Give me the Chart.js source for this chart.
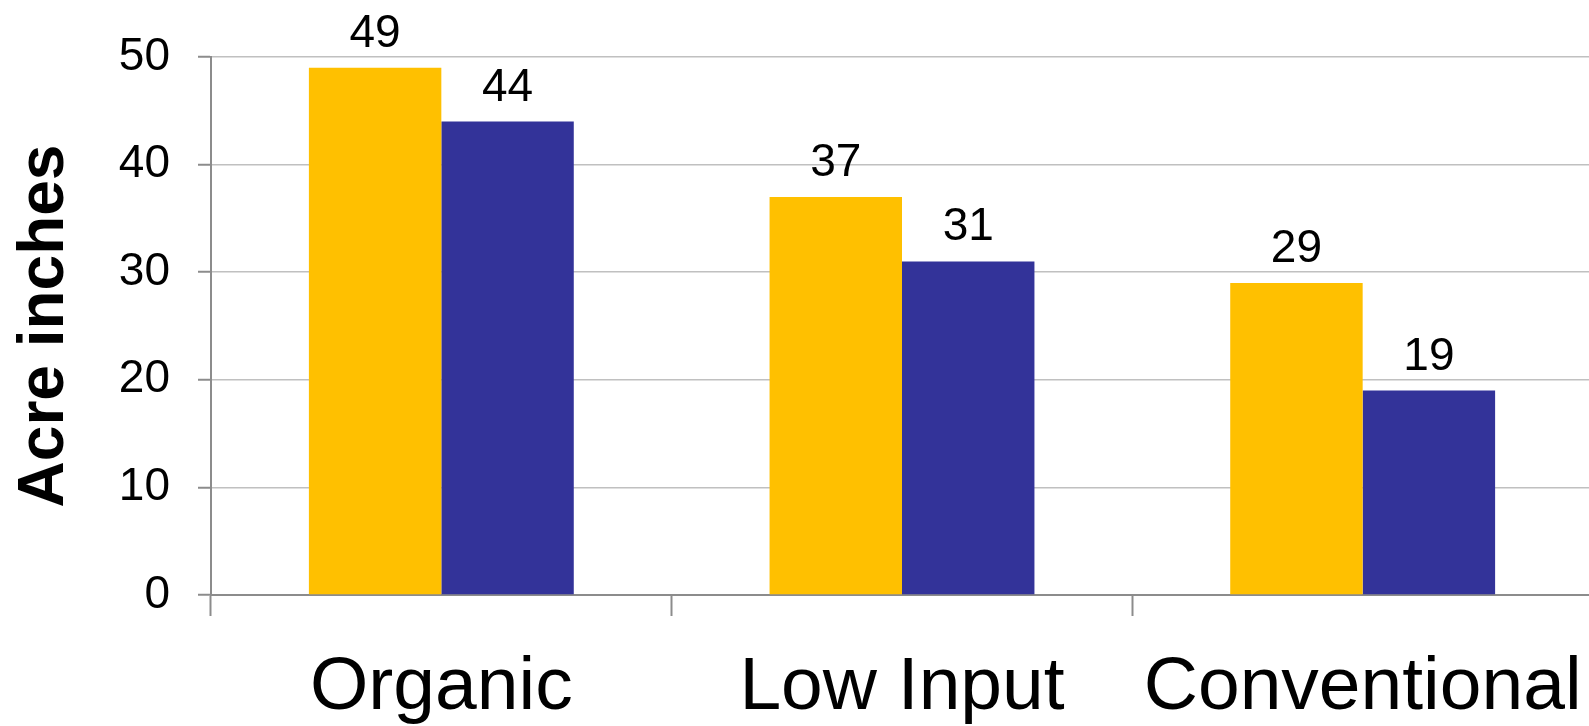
<!DOCTYPE html>
<html>
<head>
<meta charset="utf-8">
<script src="https://cdn.jsdelivr.net/npm/chart.js@4"></script>
<style>
  html, body { margin: 0; padding: 0; background: #fff; overflow: hidden; }
  #wrap { width: 1589px; height: 726px; overflow: hidden; }
  canvas { display: block; }
</style>
</head>
<body>
<!-- plot area runs a few pixels past the right edge, like the original -->
<div id="wrap"><canvas id="chart" width="1593" height="726"></canvas></div>
<script>
const categories = ['Organic', 'Low Input', 'Conventional'];
const seriesA = [49, 37, 29];
const seriesB = [44, 31, 19];
const yTicks = [0, 10, 20, 30, 40, 50];

const FONT = '"Liberation Sans", Arial, sans-serif';

// draws the numbers above each bar
const valueLabels = {
  id: 'valueLabels',
  afterDatasetsDraw(chart) {
    const ctx = chart.ctx;
    ctx.save();
    ctx.font = '46px ' + FONT;
    ctx.fillStyle = '#000';
    ctx.textAlign = 'center';
    ctx.textBaseline = 'alphabetic';
    chart.data.datasets.forEach((ds, i) => {
      chart.getDatasetMeta(i).data.forEach((bar, j) => {
        ctx.fillText(ds.data[j], bar.x, bar.y - 21);
      });
    });
    ctx.restore();
  }
};

Chart.defaults.font.family = FONT;
Chart.defaults.color = '#000';

new Chart(document.getElementById('chart').getContext('2d'), {
  type: 'bar',
  data: {
    labels: categories,
    datasets: [
      { data: seriesA, backgroundColor: '#FFC000', borderWidth: 0 },
      { data: seriesB, backgroundColor: '#333399', borderWidth: 0 }
    ]
  },
  options: {
    responsive: false,
    animation: false,
    devicePixelRatio: 1,
    layout: { padding: { top: 57, right: 0, bottom: 0, left: 0 } },
    categoryPercentage: 0.575,
    barPercentage: 1,
    plugins: {
      legend: { display: false },
      tooltip: { enabled: false }
    },
    scales: {
      x: {
        grid: {
          drawOnChartArea: false,
          drawTicks: true,
          tickLength: 21,
          tickColor: '#8c8c8c',
          tickWidth: 2
        },
        border: { color: '#8c8c8c', width: 2 },
        ticks: { font: { size: 75 }, padding: 27, color: '#000' },
        afterFit(scale) {
          scale.height = 131;
          scale.paddingLeft = 0;
          scale.paddingRight = 0;
        }
      },
      y: {
        min: 0,
        max: 50,
        afterBuildTicks(scale) { scale.ticks = yTicks.map(v => ({ value: v })); },
        grid: {
          color: '#c0c0c0',
          lineWidth: 1.5,
          tickLength: 13,
          tickColor: '#8c8c8c',
          tickWidth: 2
        },
        border: { color: '#8c8c8c', width: 2 },
        ticks: { font: { size: 46 }, padding: 28, color: '#000' },
        title: {
          display: true,
          text: 'Acre inches',
          font: { size: 64, weight: 'bold' },
          color: '#000',
          padding: { top: 7, bottom: 0 }
        },
        afterFit(scale) { scale.width = 211; }
      }
    }
  },
  plugins: [valueLabels]
});
</script>
</body>
</html>
